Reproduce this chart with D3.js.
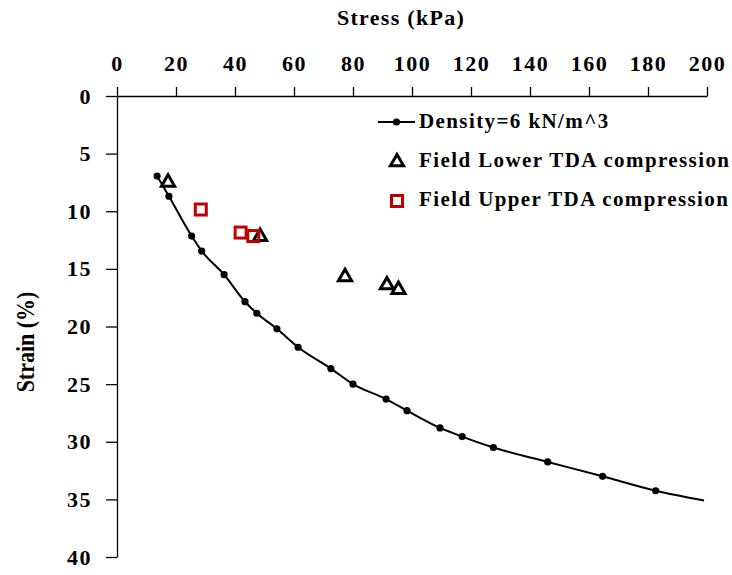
<!DOCTYPE html>
<html>
<head>
<meta charset="utf-8">
<script src="https://cdn.jsdelivr.net/npm/d3@7"></script>
<style>
body { margin: 0; background: #fff; }
text { font-family: "Liberation Serif", "Times New Roman", serif; font-weight: bold; }
</style>
</head>
<body>
<svg id="chart" width="732" height="575"></svg>
<script>
// lab curve, density = 6 kN/m^3
var curveStress = [13.6, 17.6, 25.3, 28.7, 36.3, 43.4, 47.4, 54.2, 61.4, 72.5, 80.0, 91.2, 98.3, 109.5, 117.0, 127.6, 146.0, 164.6, 182.6, 199.0];
var curveStrain = [6.95, 8.7, 12.15, 13.45, 15.5, 17.85, 18.85, 20.2, 21.8, 23.65, 25.0, 26.3, 27.3, 28.8, 29.55, 30.5, 31.75, 33.0, 34.25, 35.1];
// last point is the end of the line only (no dot)
var curveDots = 19;

// field lower TDA (triangles)
var lowerStress = [17.3, 48.5, 77.3, 91.5, 95.4];
var lowerStrain = [7.5, 12.2, 15.7, 16.4, 16.8];

// field upper TDA (squares)
var upperStress = [28.4, 41.9, 46.2];
var upperStrain = [9.85, 11.85, 12.15];

var xTicks = [0, 20, 40, 60, 80, 100, 120, 140, 160, 180, 200];
var yTicks = [0, 5, 10, 15, 20, 25, 30, 35, 40];

var legendLabels = ["Density=6 kN/m^3", "Field Lower TDA compression", "Field Upper TDA compression"];

var svg = d3.select("#chart");
var x = d3.scaleLinear().domain([0, 200]).range([117, 707]);
var y = d3.scaleLinear().domain([0, 40]).range([96, 557]);

//top axis
var xAxis = svg.append("g")
  .attr("transform", "translate(0," + y(0) + ")")
  .call(d3.axisTop(x).tickValues(xTicks).tickSize(9).tickPadding(16).tickSizeOuter(0));
xAxis.selectAll("text").style("font-size", "22px").style("letter-spacing", "1.5px").attr("fill", "#000");

var yAxis = svg.append("g")
  .attr("transform", "translate(" + x(0) + ",0)")
  .call(d3.axisLeft(y).tickValues(yTicks).tickSize(11).tickPadding(14).tickSizeOuter(0));
yAxis.selectAll("text").style("font-size", "22px").style("letter-spacing", "1.5px").attr("fill", "#000");

svg.selectAll(".domain, .tick line").attr("stroke", "#000").attr("stroke-width", 1.3);

svg.append("text")
  .attr("x", 401).attr("y", 25)
  .attr("text-anchor", "middle")
  .style("font-size", "22px")
  .style("letter-spacing", "1.3px")
  .text("Stress (kPa)");

svg.append("text")
  .attr("transform", "translate(34,342) rotate(-90) scale(1,1.15)")
  .attr("text-anchor", "middle")
  .style("font-size", "22px")
  .text("Strain (%)");

var curve = curveStress.map(function(s, i) { return [s, curveStrain[i]]; });

svg.append("path")
  .datum(curve)
  .attr("fill", "none")
  .attr("stroke", "#000")
  .attr("stroke-width", 2)
  .attr("d", d3.line().x(function(d) { return x(d[0]); }).y(function(d) { return y(d[1]); }).curve(d3.curveMonotoneX));

svg.selectAll(".dot")
  .data(curve.slice(0, curveDots))
  .enter().append("circle")
  .attr("cx", function(d) { return x(d[0]); })
  .attr("cy", function(d) { return y(d[1]); })
  .attr("r", 3.6)
  .attr("fill", "#000");

var tri = d3.symbol().type(d3.symbolTriangle).size(75);

svg.selectAll(".tri")
  .data(lowerStress.map(function(s, i) { return [s, lowerStrain[i]]; }))
  .enter().append("path")
  .attr("d", tri)
  .attr("transform", function(d) { return "translate(" + x(d[0]) + "," + y(d[1]) + ")"; })
  .attr("fill", "none")
  .attr("stroke", "#000")
  .attr("stroke-width", 3);

svg.selectAll(".sq")
  .data(upperStress.map(function(s, i) { return [s, upperStrain[i]]; }))
  .enter().append("rect")
  .attr("x", function(d) { return x(d[0]) - 5.5; })
  .attr("y", function(d) { return y(d[1]) - 5.5; })
  .attr("width", 11).attr("height", 11)
  .attr("fill", "none")
  .attr("stroke", "#c00000")
  .attr("stroke-width", 3);

// legend
var lg = svg.append("g").attr("transform", "translate(378,122)");
lg.append("line").attr("x1", 0).attr("x2", 37).attr("y1", 0).attr("y2", 0).attr("stroke", "#000").attr("stroke-width", 2);
lg.append("circle").attr("cx", 18.5).attr("cy", 0).attr("r", 3.6).attr("fill", "#000");
lg.append("path").attr("d", tri).attr("transform", "translate(19,40)")
  .attr("fill", "none").attr("stroke", "#000").attr("stroke-width", 3);
lg.append("rect").attr("x", 13.5).attr("y", 73.5).attr("width", 11).attr("height", 11)
  .attr("fill", "none").attr("stroke", "#c00000").attr("stroke-width", 3);
lg.selectAll(".lt")
  .data(legendLabels)
  .enter().append("text")
  .attr("x", 41)
  .attr("y", function(d, i) { return i * 39 + 6; })
  .style("font-size", "21px")
  .style("letter-spacing", "1.4px")
  .text(function(d) { return d; });
</script>
</body>
</html>
